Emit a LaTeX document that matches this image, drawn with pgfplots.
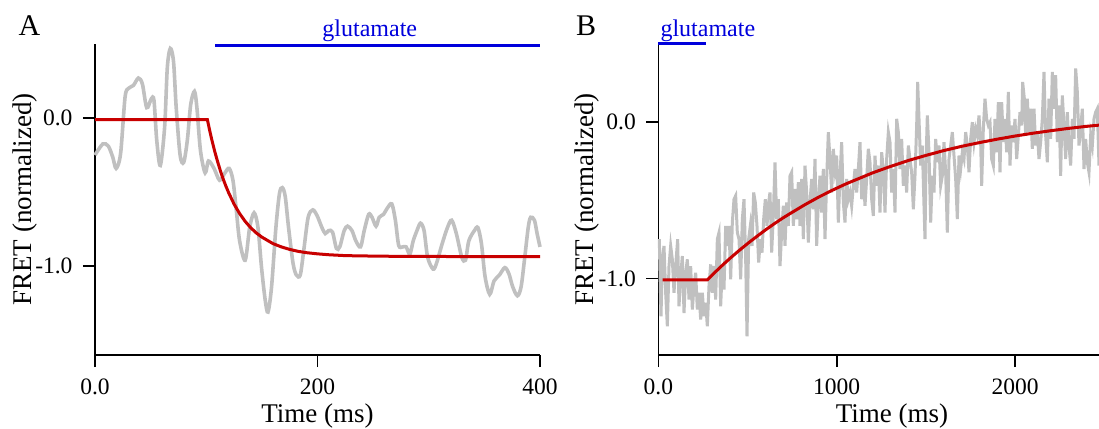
\documentclass[border=0pt]{standalone}
\usepackage{fontspec}
\setmainfont{Liberation Serif}
\usepackage{pgfplots}
\pgfplotsset{compat=1.18}
\definecolor{tracegrey}{RGB}{192,192,192}
\definecolor{fitred}{RGB}{200,0,0}
\definecolor{glublue}{RGB}{0,0,220}
\pgfplotsset{
  panel/.style={
    scale only axis, height=311pt,
    axis x line*=bottom, axis y line*=left,
    axis line style={line width=1.8pt, black, -},
    tick align=outside, major tick length=12pt,
    every tick/.style={black, line width=1.8pt},
    tick label style={font=\fontsize{23.5}{27}\selectfont},
    xticklabel style={yshift=-8pt},
    yticklabel style={xshift=-7pt},
    label style={font=\fontsize{27}{30}\selectfont},
    xlabel={Time (ms)}, ylabel={FRET (normalized)},
    clip=false,
    ytick={-1,0}, yticklabels={-1.0,0.0},
  }
}
\begin{document}
\begin{tikzpicture}
\useasboundingbox (0pt,0pt) rectangle (1099pt,428pt);
\node[font=\fontsize{30}{33}\selectfont, anchor=base] at (29.5pt,392pt) {A};
\node[font=\fontsize{30}{33}\selectfont, anchor=base] at (586pt,392pt) {B};
% Panel A
\begin{axis}[panel, at={(95pt,73pt)}, anchor=south west, width=445pt,
  xmin=0, xmax=400, ymin=-1.6, ymax=0.5,
  xtick={0,200,400}, xticklabels={0.0,200,400},
  xlabel style={at={(axis description cs:0.5,-0.196)}, anchor=center},
  ylabel style={at={(axis description cs:-0.157,0.5)}, anchor=center}]
\addplot[tracegrey, line width=3.6pt, smooth, tension=0.5] coordinates {
(0,-0.25)(7,-0.175)(12,-0.19)(16,-0.265)(19,-0.34)(23,-0.24)(27,0.14)(30,0.2)(34.5,0.22)(39,0.27)(42.6,0.23)(46.5,0.07)(50.6,0.13)(53,0.12)(55.5,-0.15)(58.7,-0.32)(62.6,-0.06)(65,0.34)(67.7,0.47)(70.6,0.38)(73,0.07)(76.5,-0.25)(79.7,-0.30)(83,-0.15)(86,0.09)(89.4,0.18)(91.6,0.07)(94.8,-0.22)(99,-0.37)(102,-0.29)(107,-0.34)(112,-0.42)(116.8,-0.37)(120.6,-0.34)(124,-0.42)(127,-0.62)(130,-0.83)(135,-0.96)(139,-0.74)(143,-0.64)(146.5,-0.74)(149.7,-1.01)(153,-1.23)(155.5,-1.31)(158.7,-1.14)(162.6,-0.74)(165.8,-0.51)(168.4,-0.47)(171,-0.53)(174,-0.74)(178,-0.98)(181,-1.06)(184.5,-1.06)(187.7,-0.89)(191.6,-0.67)(195.8,-0.62)(199.7,-0.66)(204,-0.74)(207,-0.78)(210,-0.76)(213.5,-0.77)(217,-0.88)(220,-0.87)(224,-0.76)(227,-0.73)(231,-0.76)(234.5,-0.83)(238.7,-0.87)(242,-0.76)(246,-0.65)(249,-0.67)(252.6,-0.73)(255.5,-0.67)(259.4,-0.65)(262.6,-0.61)(266.8,-0.58)(270,-0.69)(273,-0.86)(276.5,-0.87)(279.7,-0.87)(283,-0.92)(286,-0.83)(289.4,-0.76)(292.6,-0.71)(295.8,-0.76)(299,-0.94)(303.9,-1.02)(307,-0.98)(312,-0.85)(316.8,-0.74)(320.6,-0.69)(324.8,-0.78)(329.7,-0.94)(333,-0.96)(336,-0.83)(341,-0.76)(344.2,-0.74)(347.4,-0.85)(350.6,-1.07)(354.8,-1.19)(358.7,-1.10)(363.5,-1.06)(368.4,-1.01)(372,-1.05)(375.5,-1.14)(379.7,-1.20)(383,-1.14)(386,-0.96)(389.4,-0.74)(391.6,-0.67)(395,-0.69)(397.4,-0.78)(400,-0.87)};
\addplot[fitred, line width=3pt] coordinates {
(0,-0.01)(101,-0.01)(103,-0.081)(105,-0.147)(107.5,-0.222)(110,-0.289)(112.5,-0.351)(115,-0.407)(117.5,-0.457)(120,-0.502)(125,-0.581)(130,-0.645)(135,-0.698)(140,-0.741)(145,-0.776)(150,-0.804)(160,-0.848)(167.5,-0.870)(175,-0.887)(182.5,-0.900)(190,-0.909)(200,-0.917)(210,-0.923)(225,-0.929)(240,-0.931)(260,-0.933)(280,-0.934)(320,-0.935)(400,-0.935)};
\addplot[glublue, line width=3pt] coordinates {(108,0.49)(400,0.49)};
\node[glublue, font=\fontsize{24}{27}\selectfont, anchor=base] at (axis cs:247,0.55) {glutamate};
\end{axis}
% Panel B
\begin{axis}[panel, at={(658.4pt,73pt)}, anchor=south west, width=440.6pt,
  xmin=0, xmax=2471, ymin=-1.49, ymax=0.5,
  xtick={0,1000,2000}, xticklabels={0.0,1000,2000},
  xlabel style={at={(axis description cs:0.53,-0.196)}, anchor=center},
  ylabel style={at={(axis description cs:-0.162,0.5)}, anchor=center}]
\addplot[tracegrey, line width=3pt] coordinates {
(5,-0.749)(14.6,-1.242)(22.1,-0.878)(31.4,-0.792)(40.7,-1.092)(50.1,-1.306)(59.4,-0.921)(68.8,-0.792)(78.1,-0.878)(87.5,-1.092)(96.8,-0.921)(108.0,-0.749)(115.5,-1.178)(124.9,-0.985)(134.2,-0.857)(143.6,-1.221)(152.9,-0.964)(162.3,-0.878)(171.6,-1.135)(180.9,-0.921)(190.3,-1.199)(199.6,-1.049)(209.0,-0.964)(218.3,-1.199)(227.7,-1.092)(237.0,-1.263)(246.4,-1.092)(255.7,-1.242)(265.1,-1.156)(274.4,-1.306)(283.7,-1.049)(293.1,-0.910)(302.4,-1.092)(311.8,-0.921)(321.1,-1.135)(330.5,-0.749)(339.8,-0.707)(349.2,-1.178)(358.5,-0.921)(367.9,-1.071)(377.2,-0.664)(386.6,-0.792)(395.9,-0.664)(405.3,-1.006)(414.6,-0.642)(423.9,-0.493)(433.3,-0.471)(442.6,-0.707)(452.0,-0.749)(461.3,-1.006)(470.7,-0.621)(480.0,-0.493)(489.4,-0.878)(496.9,-1.370)(506.2,-0.749)(515.5,-0.664)(524.9,-0.792)(534.2,-0.450)(543.6,-0.514)(552.9,-0.664)(562.3,-0.899)(571.6,-0.749)(581.0,-0.835)(590.3,-0.621)(599.7,-0.493)(609.0,-0.664)(618.4,-0.514)(625.8,-0.450)
(635.2,-0.835)(644.5,-0.600)(653.9,-0.257)(663.2,-0.621)(672.6,-0.493)(681.9,-0.921)(691.3,-0.707)(700.6,-0.535)(710.0,-0.792)(719.3,-0.514)(728.7,-0.664)(738.0,-0.343)(747.3,-0.321)(756.7,-0.664)(766.0,-0.428)(775.4,-0.621)(784.7,-0.385)(794.1,-0.664)(803.4,-0.364)(812.8,-0.749)(822.1,-0.278)(831.5,-0.450)(840.8,-0.771)(850.2,-0.514)(859.5,-0.364)(868.8,-0.557)(878.2,-0.236)(887.5,-0.792)(896.9,-0.514)(906.2,-0.343)(915.6,-0.578)(924.9,-0.300)(934.3,-0.749)(943.6,-0.364)(953.0,-0.064)(962.3,-0.236)(971.7,-0.450)(981.0,-0.171)(990.4,-0.300)(999.7,-0.214)(1009.0,-0.642)(1018.4,-0.343)(1027.7,-0.128)(1037.1,-0.514)(1046.4,-0.642)(1055.8,-0.364)(1065.1,-0.493)(1074.5,-0.450)(1083.8,-0.535)(1093.2,-0.407)(1102.5,-0.300)(1111.9,-0.450)(1121.2,-0.300)(1130.6,-0.128)(1139.9,-0.493)(1149.2,-0.343)(1158.6,-0.535)(1167.9,-0.364)(1177.3,-0.171)(1186.6,-0.257)(1196.0,-0.493)(1205.3,-0.600)(1214.7,-0.214)(1224.0,-0.407)(1233.4,-0.278)(1242.7,-0.578)
(1252.1,-0.193)(1261.4,-0.300)(1270.8,-0.578)(1280.1,-0.236)(1289.5,-0.064)(1298.8,-0.128)(1308.2,-0.450)(1317.5,-0.300)(1326.9,-0.578)(1336.2,0.021)(1345.6,-0.064)(1354.9,-0.300)(1364.2,-0.107)(1373.6,-0.407)(1382.9,-0.278)(1392.3,-0.450)(1401.6,-0.150)(1411.0,-0.236)(1420.3,-0.321)(1429.7,-0.557)(1439.0,-0.343)(1448.4,-0.021)(1454.0,0.257)(1461.5,0.021)(1470.8,-0.278)(1480.1,-0.150)(1489.5,-0.535)(1495.1,-0.749)(1500.7,-0.257)(1508.2,0.043)(1517.5,-0.193)(1526.9,-0.642)(1536.2,-0.343)(1545.6,-0.450)(1554.9,-0.107)(1564.3,-0.257)(1573.6,-0.150)(1583.0,-0.407)(1592.3,-0.343)(1601.6,-0.128)(1611.0,-0.321)(1620.3,-0.707)(1629.7,-0.236)(1639.0,-0.150)(1648.4,-0.064)(1657.7,-0.214)(1667.1,-0.364)(1676.4,-0.621)(1685.8,-0.214)(1695.1,-0.300)(1704.5,-0.193)(1713.8,-0.236)(1723.2,-0.064)(1732.5,-0.150)(1741.8,-0.321)(1751.2,-0.107)(1760.5,0.000)(1769.9,-0.128)(1779.2,-0.043)(1788.6,-0.086)(1797.9,0.043)(1807.3,-0.128)(1812.9,-0.407)(1822.2,-0.043)(1831.6,0.150)(1840.9,0.021)(1850.3,-0.021)(1859.6,0.000)
(1869.0,-0.236)(1878.3,-0.278)(1887.7,0.021)(1897.0,-0.193)(1906.4,0.128)(1915.7,-0.321)(1925.1,0.128)(1934.4,-0.128)(1943.8,0.021)(1953.1,-0.193)(1962.5,0.193)(1971.8,-0.278)(1981.1,-0.021)(1990.5,-0.128)(1999.8,0.021)(2009.2,-0.236)(2018.5,-0.086)(2027.9,0.064)(2037.2,-0.021)(2042.8,0.257)(2052.2,0.150)(2059.7,-0.086)(2069.0,0.150)(2078.3,-0.064)(2087.7,0.086)(2097.0,-0.171)(2106.4,0.086)(2115.7,-0.150)(2125.1,-0.064)(2134.4,-0.236)(2143.8,-0.128)(2153.1,0.021)(2162.5,0.321)(2171.8,-0.086)(2181.2,-0.257)(2190.5,0.150)(2199.9,-0.107)(2209.2,0.321)(2218.6,0.086)(2227.9,0.300)(2237.2,-0.128)(2246.6,0.107)(2255.9,-0.343)(2265.3,0.171)(2274.6,-0.021)(2284.0,-0.236)(2293.3,0.064)(2302.7,-0.150)(2312.0,-0.278)(2321.4,0.021)(2330.7,-0.107)(2340.1,0.343)(2349.4,0.193)(2358.7,-0.150)(2368.1,-0.043)(2377.4,0.086)(2386.8,-0.300)(2396.1,-0.107)(2405.5,-0.257)(2414.8,-0.321)(2424.2,-0.086)(2433.5,-0.150)(2442.9,0.021)(2452.2,0.064)(2461.6,0.086)(2470.9,-0.278)};
\addplot[fitred, line width=3pt] coordinates {
(23,-1.01)(274,-1.01)(300,-0.980)(350,-0.925)(400,-0.873)(450,-0.824)(500,-0.777)(550,-0.733)(600,-0.690)(650,-0.650)(700,-0.612)(750,-0.577)(825,-0.526)(900,-0.479)(975,-0.436)(1050,-0.396)(1200,-0.325)(1300,-0.284)(1400,-0.246)(1500,-0.213)(1600,-0.182)(1700,-0.155)(1800,-0.131)(1900,-0.109)(2000,-0.089)(2100,-0.071)(2200,-0.055)(2300,-0.040)(2400,-0.027)(2500,-0.016)};
\addplot[glublue, line width=3pt] coordinates {(0,0.5)(265,0.5)};
\node[glublue, font=\fontsize{24}{27}\selectfont, anchor=base west] at (axis cs:-8,0.545) {glutamate};
\end{axis}
\end{tikzpicture}
\end{document}
